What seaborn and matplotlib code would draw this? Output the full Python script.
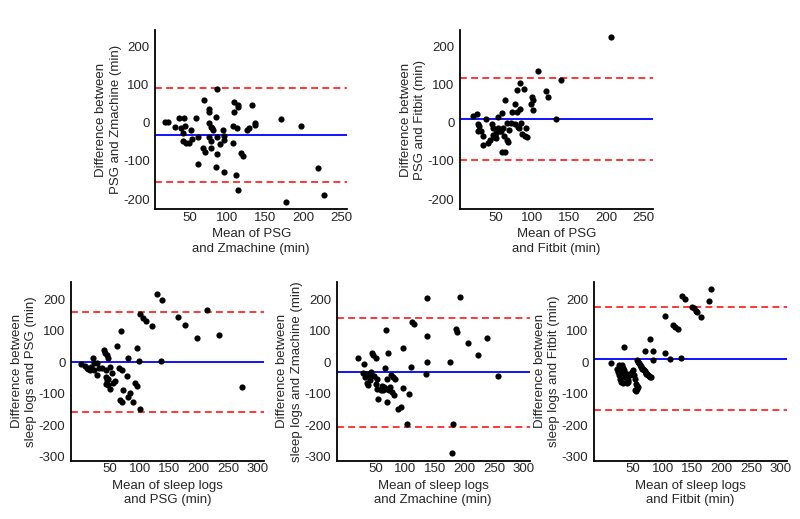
import matplotlib
matplotlib.use("Agg")
import matplotlib.pyplot as plt
import seaborn as sns
import pandas as pd

# --- Données (moyenne, différence) ---

# PSG vs Zmachine
psg_zm_mean = [17.8, 22, 31, 37, 43, 39.6, 44, 41.7, 41.7, 46, 50, 52.6, 54, 59, 61, 61,
               68, 70, 69, 75.7, 75.7, 76.5, 78, 78.7, 80, 81, 78, 76.5, 85, 87, 87, 85,
               87, 91, 94, 95, 96, 96, 107, 109, 109, 113.5, 114, 112.6, 107, 111, 114,
               118, 121, 126.5, 128.7, 133, 137, 137, 171, 197.6, 219, 227, 178]
psg_zm_diff = [3, 3, -10, 13, 11, -15, -9, -28, -47, -52, -54, -19, -43, 11, -37, -109,
               -67, -76, 59, 37, 29, -2, -12, -47, -15, -19, -67, -37, 14, 87, -82, -117,
               -37, -56, -19, -35, -45, -128, -9, 29, 55, 46, 42, -15, -54, -136, -177,
               -80, -88, -19, -15, 46, -6, -2, 10, -8, -118, -190, -206]
psg_zm_bias = -32
psg_zm_loa = [90, -155]

# PSG vs Fitbit
psg_fb_mean = [19.9, 25.3, 36.6, 26.7, 28, 26.7, 29.8, 32.5, 32.5, 40, 42.4, 44.7, 46, 47,
               47.8, 50.5, 51.4, 53.7, 53.7, 56, 58, 59, 60.5, 61.4, 62.7, 62.7, 59.5, 65,
               65.9, 67, 68.6, 71.7, 73, 76, 76, 78.5, 79.8, 80.7, 82, 83, 83, 84.3, 86,
               88.8, 89.7, 92, 92.9, 98.7, 99.6, 101, 101, 107.7, 119, 121.7, 132.5, 139.2,
               206]
psg_fb_diff = [17, 22, 9, -4, -9, -22, -23, -35, -58, -52, -45, -4, -15, -32, -37, -41,
               -28, -13, 14, -21, -22, 26, -15, -35, 59, -76, -76, -45, -2, -50, -19, 0,
               29, 50, -3, 29, 85, -10, -15, 104, 37, 0, -30, 89, -36, -13, -37, 50, 68,
               59, 33, 135, 83, 66, 9, 111, 223]
psg_fb_bias = 10
psg_fb_loa = [117, -97]

# Carnets de sommeil vs PSG
log_psg_mean = [0, 7.9, 10.7, 12.4, 16.3, 17.5, 20.8, 22, 23.6, 27.6, 28.7, 31.5, 36, 38.9,
                41.7, 44.5, 47.3, 43.4, 43.4, 44.5, 43.4, 47.3, 50, 47.3, 50, 53, 55.7,
                58.6, 61.4, 65.3, 68, 67, 71, 69.8, 72.6, 78, 80, 81, 84, 89.5, 92.3, 95,
                95, 99.7, 100.7, 100.7, 106.4, 111, 120.5, 130, 138.5, 135.7, 164.4, 177.4,
                197.6, 214, 233.7, 273.6]
log_psg_diff = [-6, -13, -17, -23, -26, -15, 14, -4, -26, -2, -41, -17, -18, 38, 30, 22,
                15, -26, -47, -57, -70, -73, -84, -52, -15, -34, -66, -60, 51, -18, 99,
                -119, -127, -26, -89, -45, 12, -109, -98, -127, -66, 44, -77, 3, -148, 152,
                139, 131, 115, 216, 198, 3, 145, 118, 78, 166, 85, -79]
log_psg_bias = 1
log_psg_loa = [160, -158]

# Carnets de sommeil vs Zmachine
log_zm_mean = [20.6, 30.7, 27.9, 34.6, 31.8, 34.6, 36.3, 38.6, 40.3, 41.4, 43, 45.9, 47,
               50.4, 51.5, 52.6, 54.3, 50.4, 58.8, 61, 62.8, 63.9, 65.6, 66.7, 68.4, 69.5,
               71.2, 69.5, 72.9, 74, 75.7, 76.9, 79.5, 80.8, 82.5, 88, 92.6, 95.4, 96.5,
               102.2, 106.7, 109, 111.8, 114.6, 135.9, 135.9, 135.9, 134.8, 175.4, 178.2,
               181, 185.5, 187.8, 192.3, 205.2, 223.2, 237.3, 255.9]
log_zm_diff = [14, -7, -33, -36, -47, -66, -73, -41, -57, -31, 30, 24, -45, 14, -84, -52,
               -116, -68, -87, -77, -89, -79, -17, 102, -84, -127, 28, -52, -87, -79, -41,
               -95, -47, -105, -52, -148, -143, 44, -81, -196, -100, -15, 129, 123, 203,
               83, 1, -36, 1, -288, -196, 104, 97, 208, 62, 22, 76, -44]
log_zm_bias = -32
log_zm_loa = [142, -205]

# Carnets de sommeil vs Fitbit
log_fb_mean = [12.7, 35.2, 22.2, 25, 26.7, 27.9, 29, 32.4, 30.7, 32.4, 34.6, 36.3, 38,
               40.3, 41.9, 39.1, 43.6, 44.8, 47.6, 50.4, 51.5, 53.2, 54.9, 56, 54.9, 58.8,
               57.2, 60.4, 62.8, 65.6, 68.4, 71.2, 74, 76.9, 79.7, 70, 78.5, 84.2, 84.2,
               104, 104.7, 113.2, 117.1, 120.5, 125.6, 131.2, 132.9, 137.4, 149.8, 152.6,
               156.5, 158.2, 165.5, 178.1, 181,
               27, 29, 31, 33, 35, 37, 39, 41, 58.5, 61.5, 64, 67, 70, 72.5, 75.5, 78,
               53, 56]
log_fb_diff = [-2, 47, -23, -31, -41, -52, -63, -66, -10, -17, -26, -34, -41, -49, -55,
               -66, -36, -41, -31, -26, -41, -52, -68, -84, -93, -79, 6, -4, -13, -20,
               -26, -33, -39, -45, -47, 35, 75, 35, 6, 30, 147, 9, 118, 111, 104, 12, 212,
               201, 177, 171, 163, 159, 145, 196, 233,
               -8, -14, -22, -30, -38, -46, -54, -62, 2, -8, -16, -23, -29, -36, -42, -46,
               -88, -76]
log_fb_bias = 10
log_fb_loa = [174, -153]

TEXT_COLOR = '#262626'


def bland_altman(fig, rect, mean, diff, bias, loa, xlabel, ylabel, xlim, ylim, xticks, yticks):
    """Trace un panneau de Bland-Altman dans le rectangle donné."""
    ax = fig.add_axes(rect)
    df = pd.DataFrame({'mean': mean, 'diff': diff})
    sns.scatterplot(data=df, x='mean', y='diff', ax=ax, color='black', s=20,
                    linewidth=0, zorder=3)

    # Biais moyen et limites d'agrément
    ax.axhline(bias, color='#0000ff', lw=1.3, zorder=2)
    for lim in loa:
        ax.axhline(lim, color='#ff0000', lw=1.1, dashes=(4.5, 2.8), zorder=2)

    ax.set_xlim(*xlim)
    ax.set_ylim(*ylim)
    ax.set_xticks(xticks)
    ax.set_yticks(yticks)

    ax.set_xlabel(xlabel, fontsize=9.5, color=TEXT_COLOR, labelpad=3, linespacing=1.3)
    ax.set_ylabel(ylabel, fontsize=9.5, color=TEXT_COLOR, labelpad=1, linespacing=1.3)

    sns.despine(ax=ax)
    for side in ['left', 'bottom']:
        ax.spines[side].set_color('black')
        ax.spines[side].set_linewidth(1.3)
    ax.tick_params(axis='x', direction='in', length=3, width=0.8, colors='black',
                   labelcolor=TEXT_COLOR, labelsize=9.5, pad=2)
    ax.tick_params(axis='y', direction='out', length=3, width=0.8, colors='black',
                   labelcolor=TEXT_COLOR, labelsize=9.5, pad=1)
    return ax


sns.set_style("white")
plt.rcParams['font.family'] = ['Liberation Sans', 'DejaVu Sans']
plt.rcParams['axes.unicode_minus'] = False  # tiret simple comme sur l'original

fig = plt.figure(figsize=(8, 5.19), dpi=100)

top_xlim = (5, 258)
top_ylim = (-226, 242)
top_xticks = [50, 100, 150, 200, 250]
top_yticks = [-200, -100, 0, 100, 200]

bot_xlim = (-16, 310)
bot_ylim = (-313, 256)
bot_xticks = [50, 100, 150, 200, 250, 300]
bot_yticks = [-300, -200, -100, 0, 100, 200]

top_b, top_h = 0.597, 0.345
bot_b, bot_h = 0.1123, 0.345

bland_altman(fig, [0.194, top_b, 0.24, top_h], psg_zm_mean, psg_zm_diff, psg_zm_bias, psg_zm_loa,
             'Mean of PSG\nand Zmachine (min)', 'Difference between\nPSG and Zmachine (min)',
             top_xlim, top_ylim, top_xticks, top_yticks)
bland_altman(fig, [0.575, top_b, 0.241, top_h], psg_fb_mean, psg_fb_diff, psg_fb_bias, psg_fb_loa,
             'Mean of PSG\nand Fitbit (min)', 'Difference between\nPSG and Fitbit (min)',
             (2, 263), top_ylim, top_xticks, top_yticks)
bland_altman(fig, [0.0888, bot_b, 0.241, bot_h], log_psg_mean, log_psg_diff, log_psg_bias, log_psg_loa,
             'Mean of sleep logs\nand PSG (min)', 'Difference between\nsleep logs and PSG (min)',
             bot_xlim, bot_ylim, bot_xticks, bot_yticks)
bland_altman(fig, [0.421, bot_b, 0.241, bot_h], log_zm_mean, log_zm_diff, log_zm_bias, log_zm_loa,
             'Mean of sleep logs\nand Zmachine (min)', 'Difference between\nsleep logs and Zmachine (min)',
             bot_xlim, bot_ylim, bot_xticks, bot_yticks)
bland_altman(fig, [0.7425, bot_b, 0.241, bot_h], log_fb_mean, log_fb_diff, log_fb_bias, log_fb_loa,
             'Mean of sleep logs\nand Fitbit (min)', 'Difference between\nsleep logs and Fitbit (min)',
             bot_xlim, bot_ylim, bot_xticks, bot_yticks)

fig.savefig('out.png', dpi=100, facecolor='white')
print("Graphique sauvegardé : out.png")
